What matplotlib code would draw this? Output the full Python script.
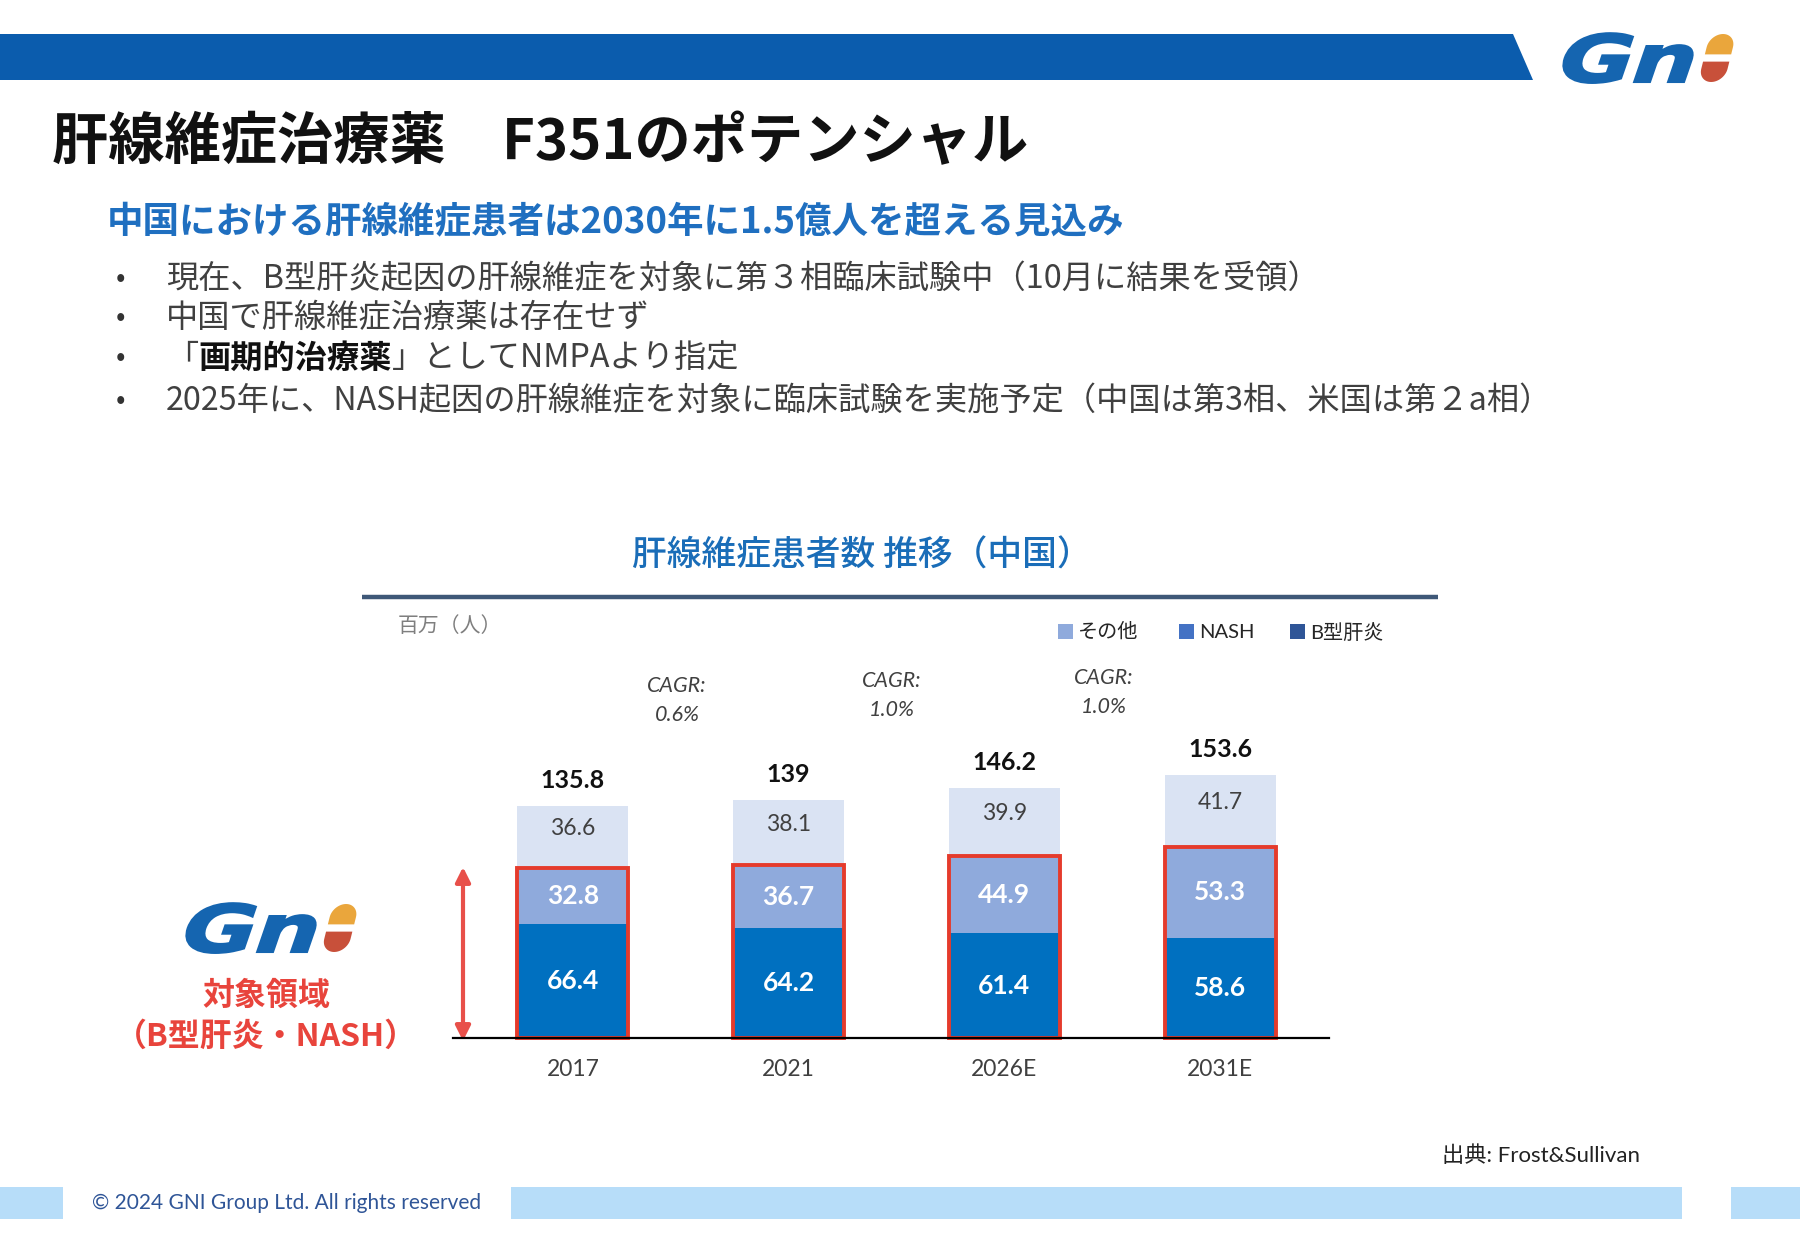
import matplotlib
matplotlib.use("Agg")
import matplotlib.pyplot as plt
from matplotlib import font_manager as fm
from matplotlib.patches import Polygon, Rectangle, PathPatch
from matplotlib.textpath import TextPath
from matplotlib.font_manager import FontProperties
from matplotlib.transforms import Affine2D
import numpy as np

# ---------------- data ----------------
years = ['2017', '2021', '2026E', '2031E']
hbv = [66.4, 64.2, 61.4, 58.6]        # B型肝炎
nash = [32.8, 36.7, 44.9, 53.3]       # NASH
other = [36.6, 38.1, 39.9, 41.7]      # その他
totals = [135.8, 139, 146.2, 153.6]
cagr_labels = ['0.6%', '1.0%', '1.0%']
legend_labels = ['その他', 'NASH', 'B型肝炎']
bullets = [
    [('現在、B型肝炎起因の肝線維症を対象に第３相臨床試験中（10月に結果を受領）', 'normal')],
    [('中国で肝線維症治療薬は存在せず', 'normal')],
    [('「', 'normal'), ('画期的治療薬', 'bold'), ('」としてNMPAより指定', 'normal')],
    [('2025年に、NASH起因の肝線維症を対象に臨床試験を実施予定（中国は第3相、米国は第２a相）', 'normal')],
]

# ---------------- fonts ----------------
avail = {f.name for f in fm.fontManager.ttflist}
NUM = 'Liberation Sans Narrow' if 'Liberation Sans Narrow' in avail else 'Lato'
CJK = ['Noto Sans CJK JP', 'DejaVu Sans']
MIX = [NUM, 'Noto Sans CJK JP', 'DejaVu Sans']

BLUE_TXT = '#1f6fc0'
C_HBV = '#0070c0'
C_NASH = '#8faadc'
C_OTH = '#dae3f3'
RED = '#e53b2c'

W, H = 1800, 1252
fig = plt.figure(figsize=(W / 100, H / 100), dpi=100)
ax0 = fig.add_axes([0, 0, 1, 1])
ax0.set_xlim(0, W)
ax0.set_ylim(H, 0)
ax0.axis('off')
ax0.set_zorder(0)

# header bar
ax0.add_patch(Polygon([(0, 34), (1513, 34), (1533, 80), (0, 80)], closed=True,
                      facecolor='#0b5cad', edgecolor='none'))


def draw_logo(x0, ytop, height):
    """GNI logo: skewed wide 'Gn' plus orange/red capsule."""
    tp = TextPath((0, 0), 'Gn', size=1, prop=FontProperties(family='DejaVu Sans', weight='bold'))
    cap = 0.73
    sy = height / cap
    sx = sy * 1.38
    tr = Affine2D().skew_deg(14, 0).scale(sx, -sy).translate(x0, ytop + height)
    path = tr.transform_path(tp)
    ax0.add_patch(PathPatch(path, facecolor='#1565b0', edgecolor='#1565b0', lw=1.5))
    xr = path.vertices[:, 0].max()
    w = 0.40
    r = w / 2
    th = np.linspace(0, np.pi, 30)
    top = [(w, 0.42)] + [(r + r * np.cos(t), 0.73 - r + r * np.sin(t)) for t in th] + [(0, 0.42)]
    bot = [(0, 0.31)] + [(r - r * np.cos(t), r - r * np.sin(t)) for t in th] + [(w, 0.31)]

    def place(pts):
        out = []
        for (px, py) in pts:
            px2 = px + np.tan(np.radians(14)) * py
            out.append((xr + 0.06 * sy + px2 * sy, ytop + height - py * sy))
        return out
    ax0.add_patch(Polygon(place(top), closed=True, facecolor='#eaa63c', edgecolor='none'))
    ax0.add_patch(Polygon(place(bot), closed=True, facecolor='#c8503a', edgecolor='none'))


draw_logo(1552, 34, 48)
draw_logo(175, 904, 48)

# titles
ax0.text(52, 143, '肝線維症治療薬　F351のポテンシャル', fontsize=40.5, fontweight='bold',
         color='#111111', family=CJK, va='center', ha='left')
ax0.text(107, 222, '中国における肝線維症患者は2030年に1.5億人を超える見込み', fontsize=26.3,
         fontweight='bold', color=BLUE_TXT, family=CJK, va='center', ha='left')

# bullets
renderer = fig.canvas.get_renderer()
bullet_y = [279, 318, 358, 401]
for yb, runs in zip(bullet_y, bullets):
    ax0.text(116, yb, '•', fontsize=20, color='#333333', family=CJK, va='center', ha='left')
    xx = 166
    for txt, wt in runs:
        t = ax0.text(xx, yb, txt, fontsize=23.2, fontweight=wt,
                     color='#111111' if wt == 'bold' else '#404040',
                     family=CJK, va='center', ha='left')
        xx += t.get_window_extent(renderer=renderer).width

# chart title and rule
ax0.text(862, 556, '肝線維症患者数 推移（中国）', fontsize=25, color='#1a6db8',
         family=CJK, va='center', ha='center', fontweight='medium')
ax0.plot([362, 1438], [597, 597], color='#3f5878', lw=3.2, solid_capstyle='butt')
ax0.text(398, 626, '百万（人）', fontsize=15, color='#7f7f7f', family=CJK, va='center', ha='left')

# legend (manual)
leg_cols = ['#8faadc', '#4472c4', '#2f5597']
leg_x = [1058, 1179, 1290]
for lx, lc, ll in zip(leg_x, leg_cols, legend_labels):
    ax0.add_patch(Rectangle((lx, 624), 15, 15, facecolor=lc, edgecolor='none'))
    ax0.text(lx + 20, 632, ll, fontsize=14.5, color='#262626', family=MIX, va='center', ha='left')

# left label
ax0.text(266, 996, '対象領域', fontsize=23, color='#e8443c', family=CJK,
         fontweight='bold', va='center', ha='center')
ax0.text(266, 1037, '（B型肝炎・NASH）', fontsize=23, color='#e8443c', family=CJK,
         fontweight='bold', va='center', ha='center')

# red double arrow
ax0.annotate('', xy=(463, 867), xytext=(463, 1041),
             arrowprops=dict(arrowstyle='<|-|>', color='#e8504a', lw=3, mutation_scale=22,
                             shrinkA=0, shrinkB=0))

# source + footer
ax0.text(1640, 1156, '出典: Frost&Sullivan', fontsize=16, color='#222222', family=MIX,
         va='center', ha='right')
for x1, x2 in [(0, 63), (511, 1682), (1731, 1800)]:
    ax0.add_patch(Rectangle((x1, 1187), x2 - x1, 32, facecolor='#b7ddf9', edgecolor='none'))
ax0.text(92, 1203, '© 2024 GNI Group Ltd. All rights reserved', fontsize=15, color='#2f5597',
         family=MIX, va='center', ha='left')

# ---------------- bar chart ----------------
PXU = 1.71
ax = fig.add_axes([453 / W, (H - 1038) / H, 876 / W, 300 * PXU / H])
ax.set_zorder(1)
ax.patch.set_alpha(0)
x = np.arange(len(years))
bw = 0.515
base2 = np.array(hbv) + np.array(nash)
ax.bar(x, hbv, bw, color=C_HBV, edgecolor='none')
ax.bar(x, nash, bw, bottom=hbv, color=C_NASH, edgecolor='none')
ax.bar(x, other, bw, bottom=base2, color=C_OTH, edgecolor='none')
ax.bar(x, base2, bw, fill=False, edgecolor=RED, linewidth=2.8, clip_on=False, zorder=3)
ax.set_xlim(-0.556, 3.505)
ax.set_ylim(0, 300)
ax.axhline(0, color='black', lw=1.6, zorder=4, clip_on=False)
for s in ax.spines.values():
    s.set_visible(False)
ax.set_yticks([])
ax.set_xticks(x)
ax.set_xticklabels(years, fontsize=16.5, color='#404040', family=NUM)
ax.tick_params(axis='x', length=0, pad=15)

for i in range(len(years)):
    ax.text(x[i], hbv[i] / 2, f'{hbv[i]:g}', ha='center', va='center', color='white',
            fontsize=19, fontweight='bold', family=NUM, zorder=5)
    ax.text(x[i], hbv[i] + nash[i] / 2, f'{nash[i]:g}', ha='center', va='center', color='white',
            fontsize=19, fontweight='bold', family=NUM, zorder=5)
    ax.text(x[i], base2[i] + other[i] / 2 + 5, f'{other[i]:g}', ha='center', va='center',
            color='#404040', fontsize=16.5, family=NUM, zorder=5)
    ax.text(x[i], totals[i] + 15, f'{totals[i]:g}', ha='center', va='center', color='#111111',
            fontsize=18, fontweight='bold', family=NUM, zorder=5)

cagr_x = [0.483, 1.479, 2.462]
cagr_y = [206, 209, 210.5]
for cx, cy, cl in zip(cagr_x, cagr_y, cagr_labels):
    ax.text(cx, cy, 'CAGR:', ha='center', va='center', fontsize=15.5, style='italic',
            color='#404040', family=NUM)
    ax.text(cx, cy - 17, cl, ha='center', va='center', fontsize=15.5, style='italic',
            color='#404040', family=NUM)

fig.savefig('out.png', dpi=100, facecolor='white')
